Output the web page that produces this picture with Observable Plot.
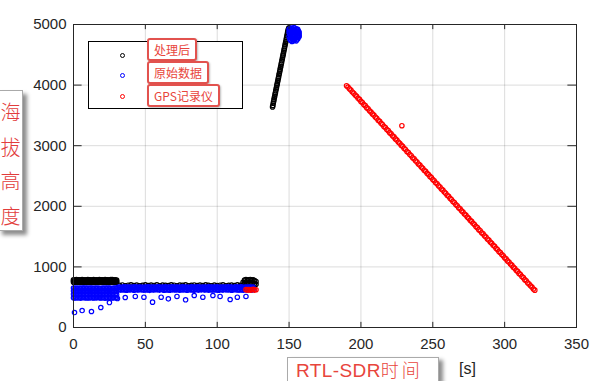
<!DOCTYPE html>
<html><head><meta charset="utf-8">
<script src="https://cdn.jsdelivr.net/npm/d3@7"></script>
<script src="https://cdn.jsdelivr.net/npm/@observablehq/plot@0.6"></script>
<style>
body{margin:0;background:#fff;}
#wrap{position:relative;width:600px;height:381px;overflow:hidden;font-family:"Liberation Sans",Arial,sans-serif;}
#wrap svg{position:absolute;left:0;top:0;}
.abs{position:absolute;}
#legend{left:88px;top:41px;width:153px;height:66px;border:1px solid #000;background:#fff;}
.mk{position:absolute;width:3px;height:3px;border:1px solid;border-radius:50%;}
.lab{position:absolute;left:147px;height:19px;border:2px solid #e2524e;border-radius:3px;background:#fff;color:#e8453c;font-family:"Noto Sans CJK SC",sans-serif;font-size:12px;line-height:19px;padding:0 5px;box-shadow:1px 1px 2px rgba(0,0,0,0.25);white-space:nowrap;}
#ylab{left:-2px;top:90px;width:25px;height:141px;border:1px solid #aaa;background:#fff;box-shadow:4px 4px 4px rgba(0,0,0,0.45);color:#e23c3c;font-family:"Noto Sans CJK SC",sans-serif;font-weight:300;font-size:20px;line-height:34.5px;text-align:center;padding-top:4px;box-sizing:border-box;}
#xlab{left:287px;top:357px;width:152px;height:24px;border:1px solid #aaa;border-bottom:none;background:#fff;box-shadow:4px 3px 4px rgba(0,0,0,0.45);color:#e8453c;font-size:19px;line-height:22px;padding-left:8px;box-sizing:border-box;white-space:nowrap;letter-spacing:0.4px;}
#xlab span{font-family:"Noto Sans CJK SC",sans-serif;font-weight:300;letter-spacing:3px;font-size:18px;}
#unit{left:459px;top:360px;font-size:16px;color:#262626;}
</style></head><body>
<div id="wrap"></div>
<script>
// ---------- tick labels ----------
const xTicks = [0, 50, 100, 150, 200, 250, 300, 350];
const yTicks = [0, 1000, 2000, 3000, 4000, 5000];
const seriesNames = ["处理后", "原始数据", "GPS记录仪"];
const seriesColors = ["#000000", "#0000ff", "#ff0000"];

// ---------- 处理后 (processed) ----------
// t = 0..30 s, three altitude readings per second
const procA = [
[788,768,746],[784,765,748],[790,770,750],[786,764,745],[789,767,749],[783,763,747],[791,771,752],[785,766,746],[788,769,750],[782,762,745],
[790,768,748],[786,765,747],[789,770,751],[784,763,746],[791,767,749],[785,764,745],[788,771,752],[783,766,748],[790,769,750],[787,762,746],
[789,768,749],[784,765,747],[791,770,751],[786,763,745],[788,767,750],[782,764,746],[790,769,752],[792,771,748],[785,766,747],[789,768,750],[784,763,746]];
// t = 32..116 s every 2 s
const procB = [695,702,690,698,704,693,700,688,697,703,691,699,694,705,689,701,696,692,703,698,690,700,695,704,689,697,702,693,699,691,705,696,688,701,694,698,703,690,697,700,692,704,695];
// t = 118..127 s
const procC = [[745,700],[782,728],[790,735],[778,724],[786,732],[793,740],[781,727],[788,734],[776,722],[760,712]];
// climb, t = 138.5..150 s every 0.25 s
const procClimbT = [138.5,138.75,139,139.25,139.5,139.75,140,140.25,140.5,140.75,141,141.25,141.5,141.75,142,142.25,142.5,142.75,143,143.25,143.5,143.75,144,144.25,144.5,144.75,145,145.25,145.5,145.75,146,146.25,146.5,146.75,147,147.25,147.5,147.75,148,148.25,148.5,148.75,149,149.25,149.5,149.75,150];
const procClimbV = [3640,3665,3700,3730,3760,3790,3815,3850,3875,3905,3935,3960,3995,4020,4050,4080,4110,4135,4170,4195,4225,4255,4285,4310,4345,4370,4400,4430,4460,4490,4515,4545,4580,4605,4635,4665,4695,4720,4750,4780,4810,4840,4870,4895,4920,4935,4945];

// ---------- 原始数据 (raw) ----------
// t = 0..30 s, four readings per second
const rawA = [
[492,548,601,650],[486,541,596,647],[497,553,606,652],[489,538,598,644],[494,550,603,651],[485,543,595,646],[499,556,608,653],[490,540,600,649],[495,547,604,652],[487,545,597,645],
[496,552,605,650],[488,539,594,647],[498,555,607,653],[491,542,599,649],[486,546,596,643],[494,551,604,651],[489,537,598,646],[500,557,609,653],[492,544,601,648],[487,536,595,644],
[497,553,606,652],[490,541,598,648],[485,549,602,650],[495,550,605,645],[488,539,597,651],[499,556,607,653],[491,544,600,646],[486,537,594,644],[496,552,605,651],[492,545,601,649],[489,542,598,647]];
// t = 31..125 s, two readings per second
const rawB = [
[622,665],[628,668],[617,660],[631,664],[620,670],[626,662],[614,667],[633,663],[619,669],[625,659],
[630,667],[616,664],[623,671],[629,661],[618,666],[634,662],[621,669],[627,660],[615,665],[632,668],
[620,663],[626,671],[613,661],[630,667],[624,664],[619,669],[635,659],[622,666],[628,670],[617,662],
[631,665],[623,668],[616,660],[629,670],[620,665],[626,662],[614,667],[633,664],[621,671],[627,661],
[618,666],[630,663],[624,669],[615,659],[632,667],[619,670],[625,662],[629,665],[616,668],[622,660],
[634,664],[620,670],[626,662],[613,666],[631,663],[623,667],[617,671],[628,661],[621,665],[635,669],
[619,662],[624,667],[630,659],[615,670],[627,664],[622,668],[618,662],[633,666],[620,663],[626,670],
[614,660],[629,665],[623,669],[617,664],[632,667],[621,661],[625,671],[619,662],[630,666],[616,668],
[628,659],[622,664],[634,670],[618,662],[624,667],[620,663],[631,670],[615,660],[627,665],[623,668],
[619,662],[626,666],[630,669],[617,664],[625,667]];
// low outliers
const rawOutT = [0.7,6,12.5,19,25,30.6,36,43,49,55,61,66,72,78,84,90,97,102,109,114,120];
const rawOutV = [247,280,264,330,412,478,495,512,500,418,500,473,512,457,528,500,528,512,462,500,512];
// top cluster, t = 150..157 s every 0.5 s, three readings each
const rawTopT = [150,150.5,151,151.5,152,152.5,153,153.5,154,154.5,155,155.5,156,156.5,157];
const rawTopV = [[4870,4920,4800],[4760,4850,4930],[4900,4820,4740],[4780,4880,4940],[4850,4720,4910],[4800,4930,4760],[4890,4830,4730],[4750,4870,4950],[4810,4920,4740],[4860,4780,4900],[4730,4840,4930],[4880,4790,4910],[4820,4920,4760],[4850,4790,4890],[4830,4870,4800]];

// ---------- GPS记录仪 ----------
const gpsStartT = [120,121,122,123,124,125,126,127];
const gpsStartV = [625,618,628,615,622,630,617,624];
// 1 Hz log, t = 190..321 s
const gpsT0 = 190;
const gpsV = [3990,3968,3938,3920,3886,3866,3835,3815,3783,3764,3731,3712,3680,3661,3628,3609,3577,3556,3525,3506,
3473,3454,3421,3403,3370,3351,3318,3299,3267,3248,3215,3196,3163,3145,3112,3093,3060,3041,3009,2990,
2957,2938,2905,2887,2854,2835,2802,2783,2751,2732,2699,2680,2647,2629,2596,2577,2544,2525,2493,2474,
2441,2422,2389,2371,2338,2319,2286,2267,2235,2216,2183,2164,2131,2113,2080,2061,2028,2009,1977,1958,
1925,1906,1873,1855,1822,1803,1770,1751,1719,1700,1667,1648,1615,1597,1564,1545,1512,1493,1461,1442,
1409,1390,1357,1339,1306,1287,1254,1235,1203,1184,1151,1132,1099,1081,1048,1029,996,977,945,926,
893,874,841,823,790,771,738,719,687,668,635,616];
const gpsOutT = [228.5];
const gpsOutV = [3330];

// ---------- build tables ----------
const proc = [];
procA.forEach((vs, i) => vs.forEach(v => proc.push({t: i, v})));
procB.forEach((v, i) => proc.push({t: 32 + 2 * i, v}));
procC.forEach((vs, i) => vs.forEach(v => proc.push({t: 118 + i, v})));
procClimbT.forEach((t, i) => proc.push({t, v: procClimbV[i]}));

const raw = [];
rawA.forEach((vs, i) => vs.forEach(v => raw.push({t: i, v})));
rawB.forEach((vs, i) => vs.forEach(v => raw.push({t: 31 + i, v})));
rawOutT.forEach((t, i) => raw.push({t, v: rawOutV[i]}));
rawTopT.forEach((t, i) => rawTopV[i].forEach(v => raw.push({t, v})));

const gps = [];
gpsStartT.forEach((t, i) => gps.push({t, v: gpsStartV[i]}));
gpsV.forEach((v, i) => gps.push({t: gpsT0 + i, v}));
gpsOutT.forEach((t, i) => gps.push({t, v: gpsOutV[i]}));

const axisColor = "#262626";
const dotOpts = {x: "t", y: "v", r: 2.2, strokeWidth: 1.2, fill: "none"};
const chart = Plot.plot({
  width: 600, height: 381,
  marginLeft: 73, marginRight: 24, marginTop: 24, marginBottom: 54,
  style: {fontSize: "15px", fontFamily: "'Liberation Sans', Arial, sans-serif", color: axisColor, background: "transparent"},
  x: {domain: [0, 350]},
  y: {domain: [0, 5000]},
  marks: [
    Plot.gridX(xTicks, {stroke: "#000", strokeOpacity: 0.14}),
    Plot.gridY(yTicks, {stroke: "#000", strokeOpacity: 0.14}),
    Plot.axisX(xTicks, {tickSize: 0, tickPadding: 11, label: null, tickFormat: d => String(d), fill: axisColor}),
    Plot.axisY(yTicks, {tickSize: 0, tickPadding: 7, label: null, tickFormat: d => String(d), fill: axisColor}),
    Plot.dot(proc, {...dotOpts, stroke: seriesColors[0]}),
    Plot.dot(raw, {...dotOpts, stroke: seriesColors[1]}),
    Plot.dot(gps, {...dotOpts, stroke: seriesColors[2]}),
    Plot.ruleX(xTicks, {y1: 0, y2: 85, stroke: axisColor}),
    Plot.ruleX(xTicks, {y1: 4915, y2: 5000, stroke: axisColor}),
    Plot.ruleY(yTicks, {x1: 0, x2: 6, stroke: axisColor}),
    Plot.ruleY(yTicks, {x1: 344, x2: 350, stroke: axisColor}),
    Plot.frame({stroke: axisColor})
  ]
});
const wrap = document.getElementById("wrap");
wrap.appendChild(chart);

// legend
const legend = document.createElement("div");
legend.className = "abs"; legend.id = "legend";
wrap.appendChild(legend);
const mkY = [53, 73, 94];
const labTop = [38, 61, 84];
seriesNames.forEach((name, i) => {
  const m = document.createElement("div");
  m.className = "mk";
  m.style.left = "120px"; m.style.top = mkY[i] + "px";
  m.style.borderColor = seriesColors[i];
  wrap.appendChild(m);
});
seriesNames.forEach((name, i) => {
  const l = document.createElement("div");
  l.className = "lab";
  l.style.top = labTop[i] + "px";
  l.textContent = name;
  wrap.appendChild(l);
});

// axis labels
const yl = document.createElement("div");
yl.className = "abs"; yl.id = "ylab";
yl.innerHTML = "海<br>拔<br>高<br>度";
wrap.appendChild(yl);
const xl = document.createElement("div");
xl.className = "abs"; xl.id = "xlab";
xl.innerHTML = "RTL-SDR<span>时间</span>";
wrap.appendChild(xl);
const u = document.createElement("div");
u.className = "abs"; u.id = "unit";
u.textContent = "[s]";
wrap.appendChild(u);
</script>
</body></html>
